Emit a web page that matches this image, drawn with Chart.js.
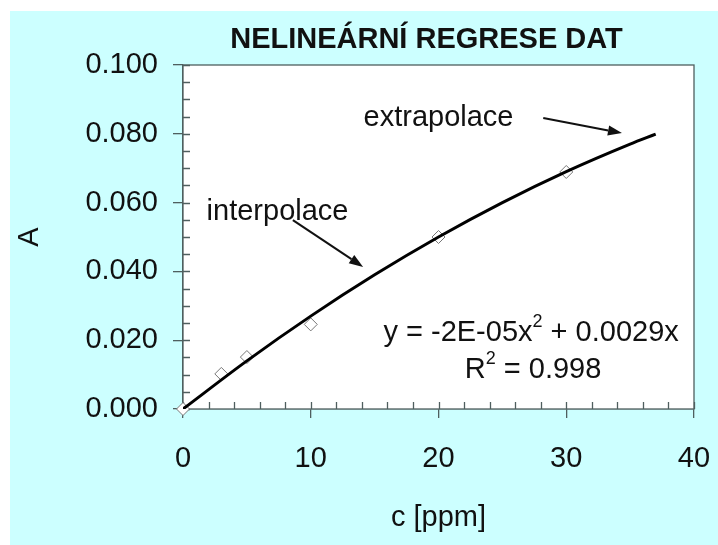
<!DOCTYPE html>
<html>
<head>
<meta charset="utf-8">
<script src="https://cdn.jsdelivr.net/npm/chart.js@4"></script>
<style>
  html, body { margin: 0; padding: 0; background: #ffffff; }
  #frame { position: absolute; left: 10px; top: 11px; width: 708px; height: 534px; background: #ccffff; }
  canvas { display: block; }
</style>
</head>
<body>
<div id="frame"><canvas id="chart" width="708" height="534"></canvas></div>
<script>
// Measured samples (c in ppm, absorbance A)
const concentrations = [0, 3, 5, 10, 20, 30];
const absorbances   = [0, 0.0102, 0.0151, 0.0246, 0.050, 0.0689];

// Fitted trend, read along the drawn curve up to the extrapolated end
const fitC = [0, 5, 10, 15, 20, 25, 30, 35, 37];
const fitA = [0, 0.0140, 0.0270, 0.0390, 0.0500, 0.0600, 0.0690, 0.0770, 0.0799];

// Axis ticks
const xTicks = [0, 10, 20, 30, 40];
const yTicks = [0, 0.02, 0.04, 0.06, 0.08, 0.1];
const xMinorStep = 2;
const yMinorStep = 0.005;

const titleText = 'NELINEÁRNÍ REGRESE DAT';
const xTitle = 'c [ppm]';
const yTitle = 'A';

const FONT = "'Liberation Sans', Arial, sans-serif";
const AXIS_COLOR = '#4f5f5f';

// Text notes and arrows placed in data coordinates
const notes = [
  { text: 'extrapolace', x: 20.0, y: 0.0846 },
  { text: 'interpolace', x: 7.4, y: 0.0572 },
  { text: 'y = -2E-05x', sup: '2', tail: ' + 0.0029x', x: 27.25, y: 0.0222 },
  { text: 'R', sup: '2', tail: ' = 0.998', x: 27.4, y: 0.0112 }
];
const arrows = [
  { from: [28.2, 0.0846], to: [34.36, 0.0802] },
  { from: [8.6, 0.0549], to: [14.1, 0.0413] }
];

const points = concentrations.map((c, i) => ({ x: c, y: absorbances[i] }));
const fitPoints = fitC.map((c, i) => ({ x: c, y: fitA[i] }));

const plotFrame = {
  id: 'plotFrame',
  beforeDatasetsDraw(chart) {
    const { ctx, chartArea: a } = chart;
    ctx.save();
    ctx.fillStyle = '#ffffff';
    ctx.fillRect(a.left, a.top, a.right - a.left, a.bottom - a.top);
    ctx.strokeStyle = AXIS_COLOR;
    ctx.lineWidth = 1.3;
    ctx.strokeRect(a.left, a.top, a.right - a.left, a.bottom - a.top);

    // inner tick marks (major and minor)
    const xs = chart.scales.x, ys = chart.scales.y;
    ctx.beginPath();
    for (let v = xs.min; v <= xs.max + 1e-9; v += xMinorStep) {
      const px = Math.round(xs.getPixelForValue(v)) + 0.5;
      ctx.moveTo(px, a.bottom);
      ctx.lineTo(px, a.bottom - 7);
    }
    for (let v = ys.min; v <= ys.max + 1e-9; v += yMinorStep) {
      const py = Math.round(ys.getPixelForValue(v)) + 0.5;
      ctx.moveTo(a.left, py);
      ctx.lineTo(a.left + 7, py);
    }
    ctx.stroke();
    ctx.restore();
  },
  afterDraw(chart) {
    const { ctx, chartArea: a } = chart;
    const xs = chart.scales.x, ys = chart.scales.y;
    ctx.save();
    ctx.fillStyle = '#111111';
    ctx.font = `bold 29px ${FONT}`;
    ctx.textAlign = 'center';
    ctx.textBaseline = 'middle';
    ctx.fillText(titleText, (a.left + a.right) / 2 - 12, a.top - 25);

    ctx.font = `29px ${FONT}`;
    ctx.textAlign = 'left';
    notes.forEach(n => {
      const supFont = `18px ${FONT}`;
      ctx.font = `29px ${FONT}`;
      const w1 = ctx.measureText(n.text).width;
      const w3 = n.tail ? ctx.measureText(n.tail).width : 0;
      ctx.font = supFont;
      const w2 = n.sup ? ctx.measureText(n.sup).width : 0;
      const total = w1 + w2 + w3;
      let px = xs.getPixelForValue(n.x) - total / 2;
      const py = ys.getPixelForValue(n.y);
      ctx.font = `29px ${FONT}`;
      ctx.fillText(n.text, px, py);
      px += w1;
      if (n.sup) {
        ctx.font = supFont;
        ctx.fillText(n.sup, px, py - 11);
        px += w2;
        ctx.font = `29px ${FONT}`;
        ctx.fillText(n.tail, px, py);
      }
    });

    ctx.strokeStyle = '#111111';
    ctx.fillStyle = '#111111';
    ctx.lineWidth = 2;
    arrows.forEach(ar => {
      const x1 = xs.getPixelForValue(ar.from[0]), y1 = ys.getPixelForValue(ar.from[1]);
      const x2 = xs.getPixelForValue(ar.to[0]), y2 = ys.getPixelForValue(ar.to[1]);
      const ang = Math.atan2(y2 - y1, x2 - x1);
      const len = 14, half = 5;
      const bx = x2 - len * Math.cos(ang), by = y2 - len * Math.sin(ang);
      ctx.beginPath();
      ctx.moveTo(x1, y1);
      ctx.lineTo(bx, by);
      ctx.stroke();
      ctx.beginPath();
      ctx.moveTo(x2, y2);
      ctx.lineTo(bx + half * Math.sin(ang), by - half * Math.cos(ang));
      ctx.lineTo(bx - half * Math.sin(ang), by + half * Math.cos(ang));
      ctx.closePath();
      ctx.fill();
    });
    ctx.restore();
  }
};

new Chart(document.getElementById('chart'), {
  type: 'scatter',
  data: {
    datasets: [
      {
        type: 'line',
        data: fitPoints,
        borderColor: '#000000',
        borderWidth: 3,
        pointRadius: 0,
        cubicInterpolationMode: 'monotone',
        fill: false
      },
      {
        data: points,
        pointStyle: 'rectRot',
        pointRadius: 6.5,
        pointBackgroundColor: '#ffffff',
        pointBorderColor: '#777777',
        pointBorderWidth: 1,
        showLine: false,
        clip: false
      }
    ]
  },
  options: {
    responsive: false,
    animation: false,
    devicePixelRatio: 1,
    layout: { padding: { left: 0, top: 54, right: 24, bottom: 0 } },
    plugins: { legend: { display: false }, tooltip: { enabled: false }, title: { display: false } },
    scales: {
      x: {
        type: 'linear',
        min: 0, max: 40,
        afterBuildTicks: s => { s.ticks = xTicks.map(v => ({ value: v })); },
        afterFit: s => { s.height = 136; s.paddingLeft = 0; s.paddingRight = 0; },
        grid: { drawOnChartArea: false, drawTicks: true, tickLength: 9, color: AXIS_COLOR, lineWidth: 1.3 },
        border: { display: true, color: AXIS_COLOR, width: 1.3 },
        ticks: { color: '#111111', font: { family: FONT, size: 29 }, padding: 24, maxRotation: 0 },
        title: { display: true, text: xTitle, color: '#111111', font: { family: FONT, size: 29 }, padding: { top: 0, bottom: 10 } }
      },
      y: {
        type: 'linear',
        min: 0, max: 0.1,
        afterBuildTicks: s => { s.ticks = yTicks.map(v => ({ value: v })); },
        afterFit: s => { s.width = 173; s.paddingTop = 0; s.paddingBottom = 0; },
        grid: { drawOnChartArea: false, drawTicks: true, tickLength: 10, color: AXIS_COLOR, lineWidth: 1.3 },
        border: { display: true, color: AXIS_COLOR, width: 1.3 },
        ticks: { color: '#111111', font: { family: FONT, size: 29 }, padding: 15, callback: v => v.toFixed(3) },
        title: { display: true, text: yTitle, color: '#111111', font: { family: FONT, size: 29 }, padding: { top: 3, bottom: 0 } }
      }
    }
  },
  plugins: [plotFrame]
});
</script>
</body>
</html>
